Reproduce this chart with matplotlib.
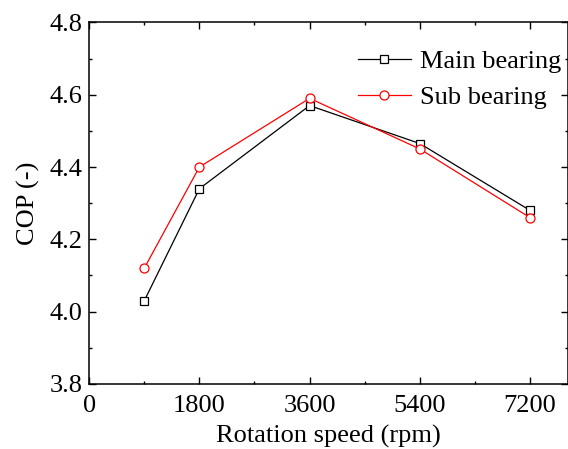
import matplotlib
matplotlib.use('Agg')
import matplotlib.pyplot as plt
from matplotlib.ticker import MultipleLocator

speed = [900, 1800, 3600, 5400, 7200]
main_bearing = [4.03, 4.34, 4.57, 4.465, 4.28]
sub_bearing = [4.12, 4.40, 4.59, 4.45, 4.26]
x_ticks = [0, 1800, 3600, 5400, 7200]

plt.rcParams['font.family'] = ['Liberation Serif', 'DejaVu Serif']
plt.rcParams['font.size'] = 19

fig = plt.figure(figsize=(5.68, 4.49), dpi=100)
ax = fig.add_axes([0.157, 0.145, 0.843, 0.805])

ax.plot(speed, main_bearing, color='black', lw=0.9, marker='s', ms=6,
        mfc='white', mec='black', mew=0.9, label='Main bearing')
ax.plot(speed, sub_bearing, color='red', lw=0.9, marker='o', ms=6.5,
        mfc='white', mec='red', mew=0.9, label='Sub bearing')

ax.set_xlim(0, 7820)
ax.set_ylim(3.8, 4.8)
ax.set_xticks(x_ticks)
ax.xaxis.set_minor_locator(MultipleLocator(900))
ax.yaxis.set_major_locator(MultipleLocator(0.2))
ax.yaxis.set_minor_locator(MultipleLocator(0.1))
ax.tick_params(which='both', direction='in', top=True, right=True, width=1.0)
ax.tick_params(which='major', length=5, pad=5)
ax.tick_params(axis='x', which='major', pad=8)
ax.tick_params(which='minor', length=2.5)
for s in ax.spines.values():
    s.set_linewidth(1.1)

ax.set_xlabel('Rotation speed (rpm)', labelpad=6)
ax.set_ylabel('COP (-)', labelpad=7)

ax.legend(loc='upper right', frameon=False, handlelength=2.0, handletextpad=0.35,
          labelspacing=0.5, borderaxespad=0.0, bbox_to_anchor=(1.008, 0.955))

fig.savefig('out.png', dpi=100)
